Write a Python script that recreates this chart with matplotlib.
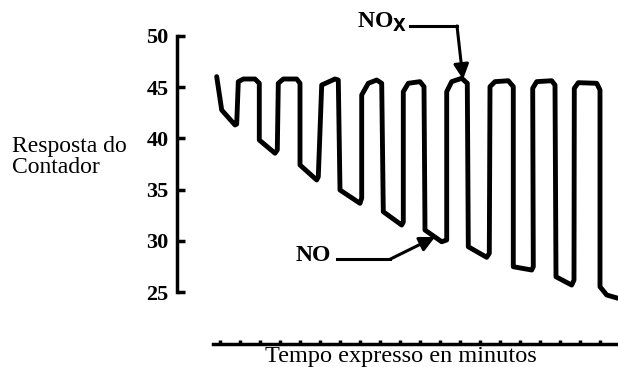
import matplotlib
matplotlib.use("Agg")
import matplotlib.pyplot as plt

# Data (time in tick intervals, response in counter units)
time = [-0.165, 0.085, 0.75, 0.835, 0.915, 1.165, 1.75, 1.965, 1.965, 2.75, 2.865,
        2.915, 3.165, 3.835, 4.0, 4.0, 4.835, 4.915, 5.085, 5.75, 5.915, 6.0, 7.0,
        7.085, 7.085, 7.415, 7.835, 8.085, 8.165, 9.085, 9.165, 9.165, 9.415, 10.0,
        10.2, 10.25, 11.085, 11.335, 11.335, 11.585, 12.085, 12.365, 12.415, 13.335,
        13.465, 13.5, 13.75, 14.415, 14.665, 14.665, 15.585, 15.665, 15.635, 15.835,
        16.585, 16.75, 16.8, 17.585, 17.7, 17.715, 17.915, 18.835, 19.0, 19.0,
        19.335, 19.9]
response = [46.03, 42.77, 41.31, 41.4, 45.54, 45.8, 45.8, 45.38, 39.84, 38.55, 38.87,
            45.38, 45.8, 45.8, 45.38, 37.4, 35.94, 36.26, 45.21, 45.8, 45.7, 34.96, 33.66,
            34.18, 44.24, 45.38, 45.7, 45.38, 32.84, 31.54, 31.84, 44.56, 45.38, 45.54,
            45.05, 31.05, 29.91, 30.08, 44.56, 45.54, 45.87, 45.38, 29.42, 28.39,
            28.78, 45.05, 45.54, 45.63, 45.05, 27.47, 27.15, 27.47, 44.89, 45.54,
            45.63, 45.21, 26.49, 25.68, 26.17, 44.89, 45.44, 45.38, 44.73, 25.52,
            24.71, 24.39]
y_ticks = [25, 30, 35, 40, 45, 50]
x_ticks = list(range(0, 20))

SERIF = "Liberation Serif"

fig = plt.figure(figsize=(6.18, 3.67), dpi=100)
ax = fig.add_axes([177/618, 17/367, 441/618, 330/367])
ax.set_xlim(-2.15, 19.9)
ax.set_ylim(19.34, 51.56)

ax.plot(time, response, color="black", lw=3.5, solid_joinstyle="round",
        solid_capstyle="round", clip_on=False)

for s in ["top", "right"]:
    ax.spines[s].set_visible(False)
ax.spines["left"].set_bounds(25, 50)
ax.spines["left"].set_linewidth(2.5)
ax.spines["bottom"].set_position(("data", 19.92))
ax.spines["bottom"].set_bounds(-0.35, 19.9)
ax.spines["bottom"].set_linewidth(2.5)

ax.set_yticks(y_ticks)
ax.set_yticklabels([str(v) for v in y_ticks], fontfamily=SERIF, fontweight="bold",
                   fontsize=16)
ax.tick_params(axis="y", direction="in", length=6, width=2.5, pad=6)
ax.set_xticks(x_ticks)
ax.set_xticklabels([])
ax.tick_params(axis="x", direction="in", length=3, width=2.5)

arrow_style = dict(arrowstyle="-|>,head_length=0.9,head_width=0.45",
                   lw=2.2, color="black", shrinkA=0, shrinkB=0)

# NO annotation
ax.text(4.65, 28.6, "NO", fontfamily=SERIF, fontweight="bold", fontsize=17,
        ha="center", va="center")
ax.plot([5.85, 8.5], [28.2, 28.2], color="black", lw=2.2)
ax.annotate("", xy=(10.75, 30.37), xytext=(8.5, 28.2), arrowprops=arrow_style)

# NOx annotation
ax.text(9.35, 51.3, r"NO$_{\mathbf{X}}$", fontfamily=SERIF, fontweight="bold",
        fontsize=17, ha="right", va="center", clip_on=False)
ax.plot([9.5, 11.85], [50.98, 50.98], color="black", lw=2.2, clip_on=False)
ax.annotate("", xy=(12.15, 45.75), xytext=(11.85, 50.98), arrowprops=arrow_style,
            annotation_clip=False)

fig.text(12/618, 1 - 152/367, "Resposta do", fontfamily=SERIF, fontsize=17,
         ha="left", va="baseline")
fig.text(12/618, 1 - 173/367, "Contador", fontfamily=SERIF, fontsize=17,
         ha="left", va="baseline")
fig.text(401/618, 1 - 362/367, "Tempo expresso en minutos", fontfamily=SERIF,
         fontsize=17.5, ha="center", va="baseline")

fig.savefig("out.png", dpi=100)
